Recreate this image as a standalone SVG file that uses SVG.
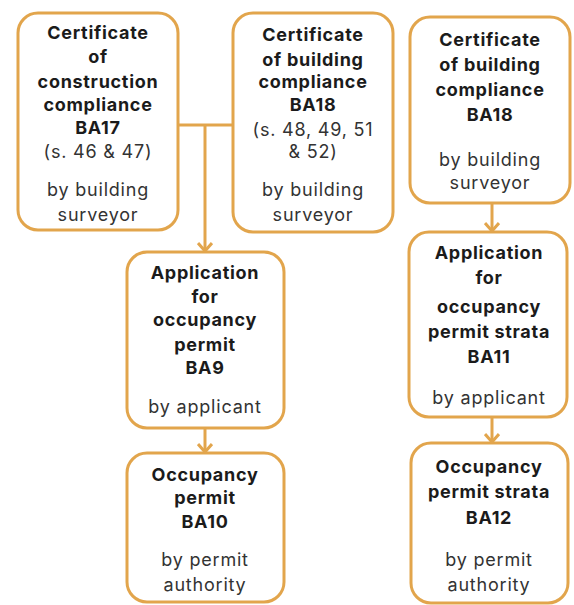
<svg xmlns="http://www.w3.org/2000/svg" width="574" height="605" viewBox="0 0 574 605">
<style>
.box{fill:#fff;stroke:#E2A54C;stroke-width:3}
.conn{stroke:#E2A54C;stroke-width:3;fill:none}
text{font-family:Inter,"Liberation Sans",sans-serif;font-size:18px;text-anchor:middle}
.b{font-weight:700;fill:#1b1b1b;letter-spacing:0.7px}
.r{font-weight:400;fill:#333;letter-spacing:0.8px}
</style>
<defs>
<marker id="ah" markerUnits="userSpaceOnUse" viewBox="0 0 16 16" markerWidth="16" markerHeight="16" refX="14" refY="8" orient="auto">
<path d="M6,1 L14,8 L6,15" fill="none" stroke="#E2A54C" stroke-width="3"/>
</marker>
</defs>
<rect width="574" height="605" fill="#fff"/>
<g id="connectors">
<line class="conn" x1="178" y1="125" x2="233" y2="125"/>
<line class="conn" x1="205" y1="125" x2="205" y2="251" marker-end="url(#ah)"/>
<line class="conn" x1="492" y1="203" x2="492" y2="231" marker-end="url(#ah)"/>
<line class="conn" x1="205" y1="428" x2="205" y2="452" marker-end="url(#ah)"/>
<line class="conn" x1="492" y1="417" x2="492" y2="442" marker-end="url(#ah)"/>
</g>
<g id="n1">
<rect class="box" x="18" y="13" width="160" height="217" rx="20"/>
<text class="b" x="98" y="39">Certificate</text>
<text class="b" x="98" y="63">of</text>
<text class="b" x="98" y="88">construction</text>
<text class="b" x="98" y="111">compliance</text>
<text class="b" x="98" y="134">BA17</text>
<text class="r" x="98" y="158">(s. 46 &amp; 47)</text>
<text class="r" x="98" y="196">by building</text>
<text class="r" x="98" y="221">surveyor</text>
</g>
<g id="n2">
<rect class="box" x="233" y="13" width="160" height="219" rx="20"/>
<text class="b" x="313" y="41">Certificate</text>
<text class="b" x="313" y="66">of building</text>
<text class="b" x="313" y="88">compliance</text>
<text class="b" x="313" y="111">BA18</text>
<text class="r" x="313" y="136">(s. 48, 49, 51</text>
<text class="r" x="313" y="158">&amp; 52)</text>
<text class="r" x="313" y="196">by building</text>
<text class="r" x="313" y="221">surveyor</text>
</g>
<g id="n3">
<rect class="box" x="410" y="17" width="160" height="186" rx="20"/>
<text class="b" x="490" y="46">Certificate</text>
<text class="b" x="490" y="71">of building</text>
<text class="b" x="490" y="96">compliance</text>
<text class="b" x="490" y="121">BA18</text>
<text class="r" x="490" y="166">by building</text>
<text class="r" x="490" y="189">surveyor</text>
</g>
<g id="n4">
<rect class="box" x="127" y="252" width="157" height="176" rx="20"/>
<text class="b" x="205" y="279">Application</text>
<text class="b" x="205" y="303">for</text>
<text class="b" x="205" y="326">occupancy</text>
<text class="b" x="205" y="351">permit</text>
<text class="b" x="205" y="374">BA9</text>
<text class="r" x="205" y="413">by applicant</text>
</g>
<g id="n5">
<rect class="box" x="127" y="453" width="157" height="149" rx="20"/>
<text class="b" x="205" y="481">Occupancy</text>
<text class="b" x="205" y="504">permit</text>
<text class="b" x="205" y="528">BA10</text>
<text class="r" x="205" y="566">by permit</text>
<text class="r" x="205" y="591">authority</text>
</g>
<g id="n6">
<rect class="box" x="409" y="232" width="158" height="185" rx="20"/>
<text class="b" x="489" y="259">Application</text>
<text class="b" x="489" y="284">for</text>
<text class="b" x="489" y="313">occupancy</text>
<text class="b" x="489" y="338">permit strata</text>
<text class="b" x="489" y="363">BA11</text>
<text class="r" x="489" y="404">by applicant</text>
</g>
<g id="n7">
<rect class="box" x="411" y="443" width="157" height="160" rx="20"/>
<text class="b" x="489" y="473">Occupancy</text>
<text class="b" x="489" y="498">permit strata</text>
<text class="b" x="489" y="524">BA12</text>
<text class="r" x="489" y="566">by permit</text>
<text class="r" x="489" y="591">authority</text>
</g>
</svg>
